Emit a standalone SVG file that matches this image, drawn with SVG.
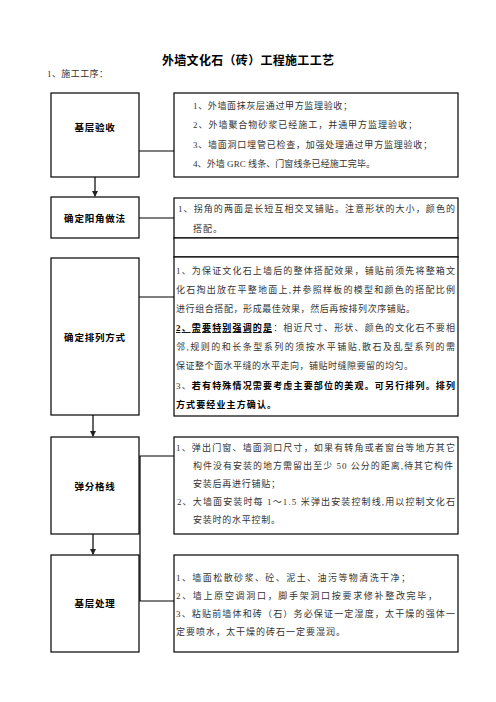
<svg xmlns="http://www.w3.org/2000/svg" width="496" height="702" viewBox="0 0 496 702">
<style>
.box{fill:#fff;stroke:#000;stroke-width:1.2}
.lbl{font-family:'Liberation Serif','Noto Sans CJK SC',serif;font-size:9.5px;font-weight:bold;fill:#000;text-anchor:middle;letter-spacing:0.8px}
.t{font-family:'Liberation Serif','Noto Sans CJK SC',serif;font-size:9px;fill:#333}
.b{font-weight:bold;fill:#000}
.ttl{font-family:'Liberation Serif','Noto Sans CJK SC',serif;font-size:12px;font-weight:bold;fill:#000}
.ln{stroke:#000;stroke-width:1.2;fill:none}
.ar{stroke:#333;stroke-width:1.5;fill:none}
</style>
<defs>
<marker id="ah" markerWidth="6" markerHeight="6" refX="5" refY="3" orient="auto" markerUnits="userSpaceOnUse">
<path d="M0,0 L6,3 L0,6 Z" fill="#222"/>
</marker>
</defs>
<rect width="496" height="702" fill="#fff"/>
<g id="title">
<text class="ttl" x="162" y="64.5" textLength="172" lengthAdjust="spacing">外墙文化石（砖）工程施工工艺</text>
<text class="t" x="47" y="76.5" textLength="61" lengthAdjust="spacing">1、施工工序：</text>
</g>
<g id="connectors">
<line class="ln" x1="139" y1="151" x2="174" y2="151"/>
<line class="ln" x1="139" y1="218" x2="174" y2="218"/>
<line class="ln" x1="139" y1="297" x2="174" y2="297"/>
<polyline class="ln" points="174,456 140,456 140,601 174,601"/>
<line class="ar" x1="95" y1="177" x2="95" y2="196" marker-end="url(#ah)"/>
<line class="ar" x1="93" y1="415" x2="93" y2="436" marker-end="url(#ah)"/>
<line class="ar" x1="93" y1="534" x2="93" y2="554" marker-end="url(#ah)"/>
</g>
<g id="n1">
<rect class="box" x="51" y="93" width="88" height="84"/>
<text class="lbl" x="95" y="130.5">基层验收</text>
</g>
<g id="n2">
<rect class="box" x="51" y="197" width="88" height="41"/>
<text class="lbl" x="95" y="221.5">确定阳角做法</text>
</g>
<g id="n3">
<rect class="box" x="51" y="258" width="88" height="157"/>
<text class="lbl" x="95" y="340.5">确定排列方式</text>
</g>
<g id="n4">
<rect class="box" x="51" y="437" width="88" height="97"/>
<text class="lbl" x="95" y="489.5">弹分格线</text>
</g>
<g id="n5">
<rect class="box" x="51" y="555" width="88" height="97"/>
<text class="lbl" x="95" y="606.5">基层处理</text>
</g>
<g id="d1">
<rect class="box" x="174" y="93" width="284" height="84"/>
<text class="t" x="193" y="108.5" textLength="159" lengthAdjust="spacing">1、外墙面抹灰层通过甲方监理验收；</text>
<text class="t" x="193" y="128" textLength="224" lengthAdjust="spacing">2、外墙聚合物砂浆已经施工，并通甲方监理验收；</text>
<text class="t" x="193" y="147.5" textLength="239" lengthAdjust="spacing">3、墙面洞口埋管已检查，加强处理通过甲方监理验收；</text>
<text class="t" x="193" y="166.5" textLength="182" lengthAdjust="spacing">4、外墙 GRC 线条、门窗线条已经施工完毕。</text>
</g>
<g id="d2">
<rect class="box" x="174" y="198" width="284" height="40"/>
<text class="t" x="178" y="211.5" textLength="277" lengthAdjust="spacing">1、拐角的两面是长短互相交叉铺贴。注意形状的大小，颜色的</text>
<text class="t" x="193" y="231.5" textLength="29" lengthAdjust="spacing">搭配。</text>
</g>
<g id="d2b">
<rect class="box" x="174" y="238" width="284" height="19"/>
</g>
<g id="d3">
<rect class="box" x="174" y="257" width="284" height="159"/>
<text class="t" x="176" y="273.5" textLength="279" lengthAdjust="spacing">1、为保证文化石上墙后的整体搭配效果，铺贴前须先将整箱文</text>
<text class="t" x="176" y="292.5" textLength="279" lengthAdjust="spacing">化石掏出放在平整地面上,并参照样板的模型和颜色的搭配比例</text>
<text class="t" x="176" y="311.5" textLength="239" lengthAdjust="spacing">进行组合搭配，形成最佳效果，然后再按排列次序铺贴。</text>
<text class="t" x="176" y="331" textLength="279" lengthAdjust="spacing"><tspan class="b" text-decoration="underline">2、需要特别强调的是</tspan>：相近尺寸、形状、颜色的文化石不要相</text>
<text class="t" x="176" y="350" textLength="279" lengthAdjust="spacing">邻,规则的和长条型系列的须按水平铺贴,散石及乱型系列的需</text>
<text class="t" x="176" y="369" textLength="237" lengthAdjust="spacing">保证整个面水平缝的水平走向，铺贴时缝隙要留的均匀。</text>
<text class="t" x="176" y="388.5" textLength="279" lengthAdjust="spacing">3、<tspan class="b">若有特殊情况需要考虑主要部位的美观。可另行排列。排列</tspan></text>
<text class="t b" x="176" y="407.5" textLength="100" lengthAdjust="spacing">方式要经业主方确认。</text>
</g>
<g id="d4">
<rect class="box" x="174" y="437" width="284" height="97"/>
<text class="t" x="176" y="450.5" textLength="279" lengthAdjust="spacing">1、弹出门窗、墙面洞口尺寸，如果有转角或者窗台等地方其它</text>
<text class="t" x="193" y="468.5" textLength="260" lengthAdjust="spacing">构件没有安装的地方需留出至少 50 公分的距离,待其它构件</text>
<text class="t" x="193" y="486.5" textLength="87" lengthAdjust="spacing">安装后再进行铺贴；</text>
<text class="t" x="177" y="504.5" textLength="278" lengthAdjust="spacing">2、大墙面安装时每 1～1.5 米弹出安装控制线,用以控制文化石</text>
<text class="t" x="193" y="522.5" textLength="87" lengthAdjust="spacing">安装时的水平控制。</text>
</g>
<g id="d5">
<rect class="box" x="174" y="555" width="284" height="97"/>
<text class="t" x="176" y="580.5" textLength="234" lengthAdjust="spacing">1、墙面松散砂浆、砼、泥土、油污等物清洗干净；</text>
<text class="t" x="176" y="598.5" textLength="261" lengthAdjust="spacing">2、墙上原空调洞口，脚手架洞口按要求修补整改完毕，</text>
<text class="t" x="176" y="616.5" textLength="279" lengthAdjust="spacing">3、粘贴前墙体和砖（石）务必保证一定湿度，太干燥的强体一</text>
<text class="t" x="176" y="634.5" textLength="169" lengthAdjust="spacing">定要喷水，太干燥的砖石一定要湿润。</text>
</g>
</svg>
